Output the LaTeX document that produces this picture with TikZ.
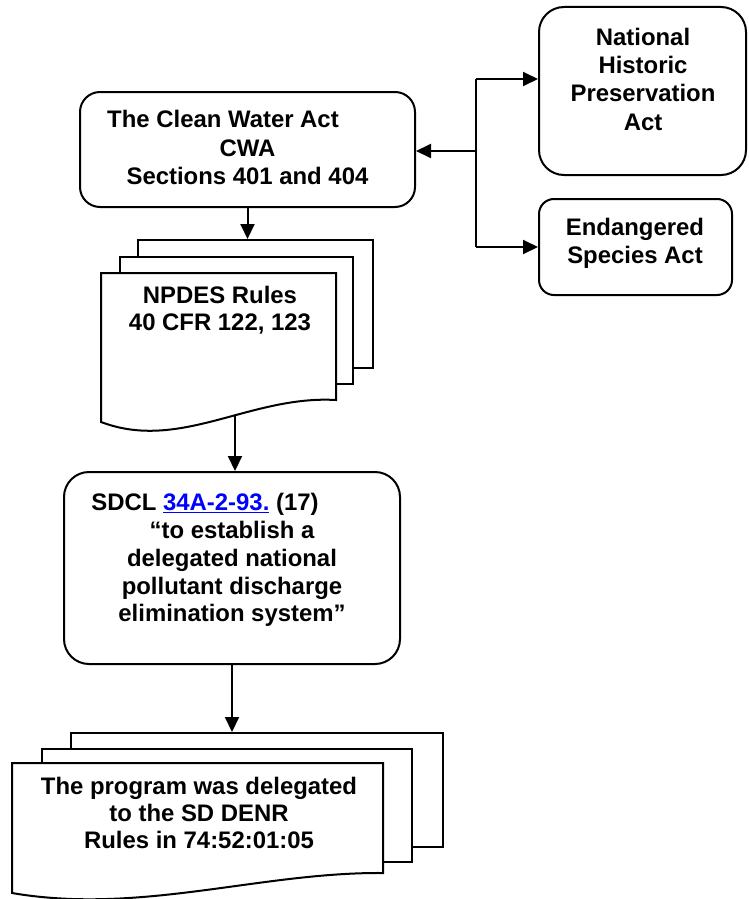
\documentclass[tikz,border=0pt]{standalone}
\usepackage{fontspec}
\setmainfont{Liberation Sans}
\usetikzlibrary{arrows.meta}
\definecolor{linkblue}{RGB}{0,0,255}
\tikzset{
  box/.style={draw=black, line width=2pt, fill=white, inner sep=0pt},
  sheet/.style={draw=black, line width=2pt, fill=white, inner sep=0pt},
  txt/.style={align=center, inner sep=0pt},
  arr/.style={line width=2pt, -{Triangle[length=15pt,width=14pt]}},
  conn/.style={line width=2pt},
}
\newcommand{\txtfont}[1]{\fontsize{23.9}{#1}\bfseries}
\begin{document}
\begin{tikzpicture}[x=1pt,y=1pt]
\useasboundingbox (0,0) rectangle (748,-899);

% Clean Water Act box
\node[box, rounded corners=20pt, minimum width=335pt, minimum height=115pt] (cwa) at (247.5,-149.5) {};
\node[txt, font=\txtfont{28.5}] (cwaT) at (247.5,-147.75)
  {The Clean Water Act\hspace*{49pt}\\CWA\\Sections 401 and 404};

% National Historic Preservation Act
\node[box, rounded corners=25pt, minimum width=207pt, minimum height=168pt] (nhpa) at (642.5,-91) {};
\node[txt, font=\txtfont{28.3}] (nhpaT) at (643,-79.25)
  {National\\Historic\\Preservation\\Act};

% Endangered Species Act
\node[box, rounded corners=15pt, minimum width=193pt, minimum height=96pt] (esa) at (635.5,-247) {};
\node[txt, font=\txtfont{28}] (esaT) at (635,-243.25)
  {Endangered\\Species Act};

% connectors on the right
\coordinate (j) at (476,-151);
\coordinate (jt) at (476,-79);
\coordinate (jb) at (476,-247);
\draw[conn] (jt) -- (jb);
\draw[arr] (j) -- (j -| cwa.east);
\draw[arr] (jt) -- (jt -| nhpa.west);
\draw[arr] (jb) -- (jb -| esa.west);

% NPDES multi-document
\node[sheet, minimum width=235pt, minimum height=128pt] (npB) at (255.5,-304) {};
\node[sheet, minimum width=233pt, minimum height=127pt] (npM) at (236.5,-320.5) {};
\draw[sheet] (101,-273) -- (336,-273) -- (336,-400)
  .. controls (250,-395) and (180,-452) .. (101,-422) -- cycle;
\node[txt, font=\txtfont{27}] (npT) at (220,-310.1)
  {NPDES Rules\\40 CFR 122, 123};
\coordinate (npW) at (235,-415);

\draw[arr] (cwa.south) -- (cwa.south |- npB.north);

% SDCL box
\node[box, rounded corners=25pt, minimum width=336pt, minimum height=192pt] (sdcl) at (232,-568) {};
\node[txt, font=\txtfont{27.75}] (sdclT) at (232,-560.3)
  {SDCL \textcolor{linkblue}{\underline{34A-2-93.}} (17)\hspace*{54pt}\\“to establish a\\delegated national\\pollutant discharge\\elimination system”};

\draw[arr] (npW) -- (npW |- sdcl.north);

% bottom multi-document
\node[sheet, minimum width=372pt, minimum height=114pt] (pgB) at (257,-790) {};
\node[sheet, minimum width=370pt, minimum height=113pt] (pgM) at (227,-805.5) {};
\draw[sheet] (12,-763) -- (383,-763) -- (383,-873)
  .. controls (260,-872) and (140,-915) .. (12,-893) -- cycle;
\node[txt, font=\txtfont{27}] (pgT) at (199,-812.9)
  {The program was delegated\\to the SD DENR\\Rules in 74:52:01:05};

\draw[arr] (sdcl.south) -- (sdcl.south |- pgB.north);
\end{tikzpicture}
\end{document}
